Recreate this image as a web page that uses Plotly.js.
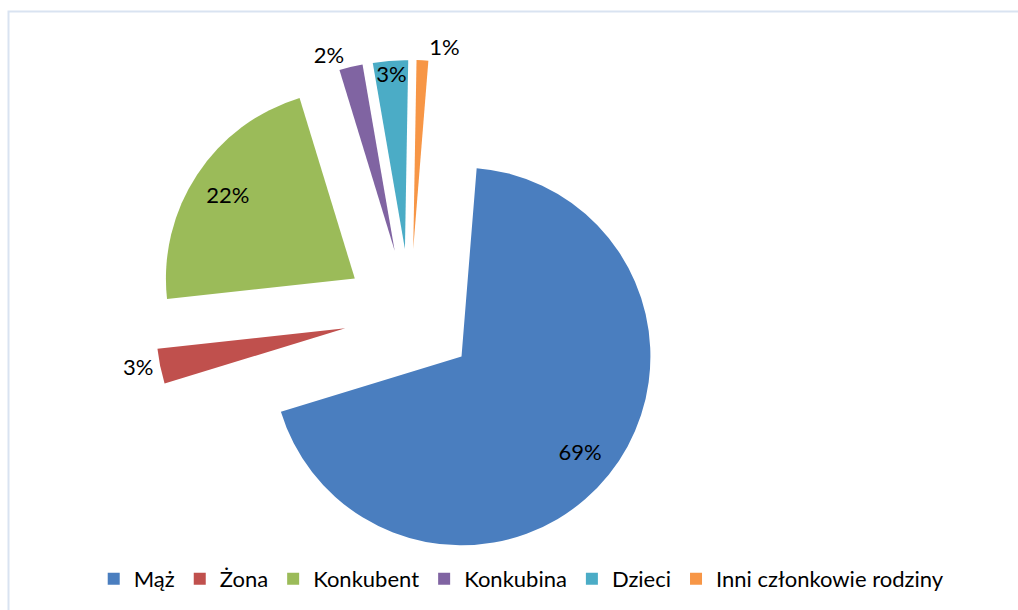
<!DOCTYPE html>
<html>
<head>
<meta charset="utf-8">
<script src="https://cdn.plot.ly/plotly-3.0.1.min.js"></script>
<style>html,body{margin:0;padding:0;background:#fff;}#chart{width:1018px;height:610px;}</style>
</head>
<body>
<div id="chart"></div>
<script>
const categories = ["Mąż", "Żona", "Konkubent", "Konkubina", "Dzieci", "Inni członkowie rodziny"];
const values = [69, 3, 22, 2, 3, 1];
const colors = ["#4A7EBF", "#C0504D", "#9BBB59", "#8064A2", "#4BACC6", "#F79646"];
// labels drawn by the visible pie (outside its slices)
const mainTextPos = ["none", "outside", "none", "outside", "none", "outside"];
// labels drawn by an invisible overlay pie (placed over the slices, as in the original)
const overlayTextPos = ["inside", "none", "inside", "none", "inside", "none"];
const overlayPull = [0, 0, 0, 0, 0.056, 0];

const font = {family: "Lato", size: 22, color: "#000"};
const cx = 410, cy = 315;

const main = {
  type: "pie",
  labels: categories,
  values: values,
  sort: false,
  direction: "clockwise",
  rotation: 4.6,
  pull: 0.35,
  marker: {colors: colors, line: {width: 0}},
  textinfo: "percent",
  textposition: mainTextPos,
  textfont: font,
  outsidetextfont: font,
  domain: {x: [(cx - 255)/1018, (cx + 255)/1018], y: [1 - (cy + 255)/610, 1 - (cy - 255)/610]},
  hoverinfo: "label+percent"
};

const overlay = {
  type: "pie",
  labels: categories,
  values: values,
  sort: false,
  direction: "clockwise",
  rotation: 4.6,
  hole: 0.746,
  pull: overlayPull,
  marker: {colors: categories.map(() => "rgba(0,0,0,0)"), line: {width: 0}},
  textinfo: "percent",
  textposition: overlayTextPos,
  insidetextorientation: "horizontal",
  textfont: font,
  insidetextfont: font,
  showlegend: false,
  hoverinfo: "skip",
  domain: {x: [(cx - 264)/1018, (cx + 264)/1018], y: [1 - (cy + 264)/610, 1 - (cy - 264)/610]}
};

const layout = {
  width: 1018,
  height: 610,
  margin: {l: 0, r: 0, t: 0, b: 0},
  paper_bgcolor: "#fff",
  showlegend: true,
  legend: {
    orientation: "h",
    x: 0.512, xanchor: "center",
    y: 1 - 579/610, yanchor: "middle",
    font: font,
    traceorder: "normal"
  },
  shapes: [{
    type: "rect", xref: "paper", yref: "paper",
    x0: 8.5/1018, x1: 1.02, y0: -0.02, y1: 1 - 11.5/610,
    line: {color: "#D9E3F1", width: 2}, fillcolor: "rgba(0,0,0,0)", layer: "below"
  }]
};

Plotly.newPlot("chart", [main, overlay], layout, {displayModeBar: false, staticPlot: true});
</script>
</body>
</html>
